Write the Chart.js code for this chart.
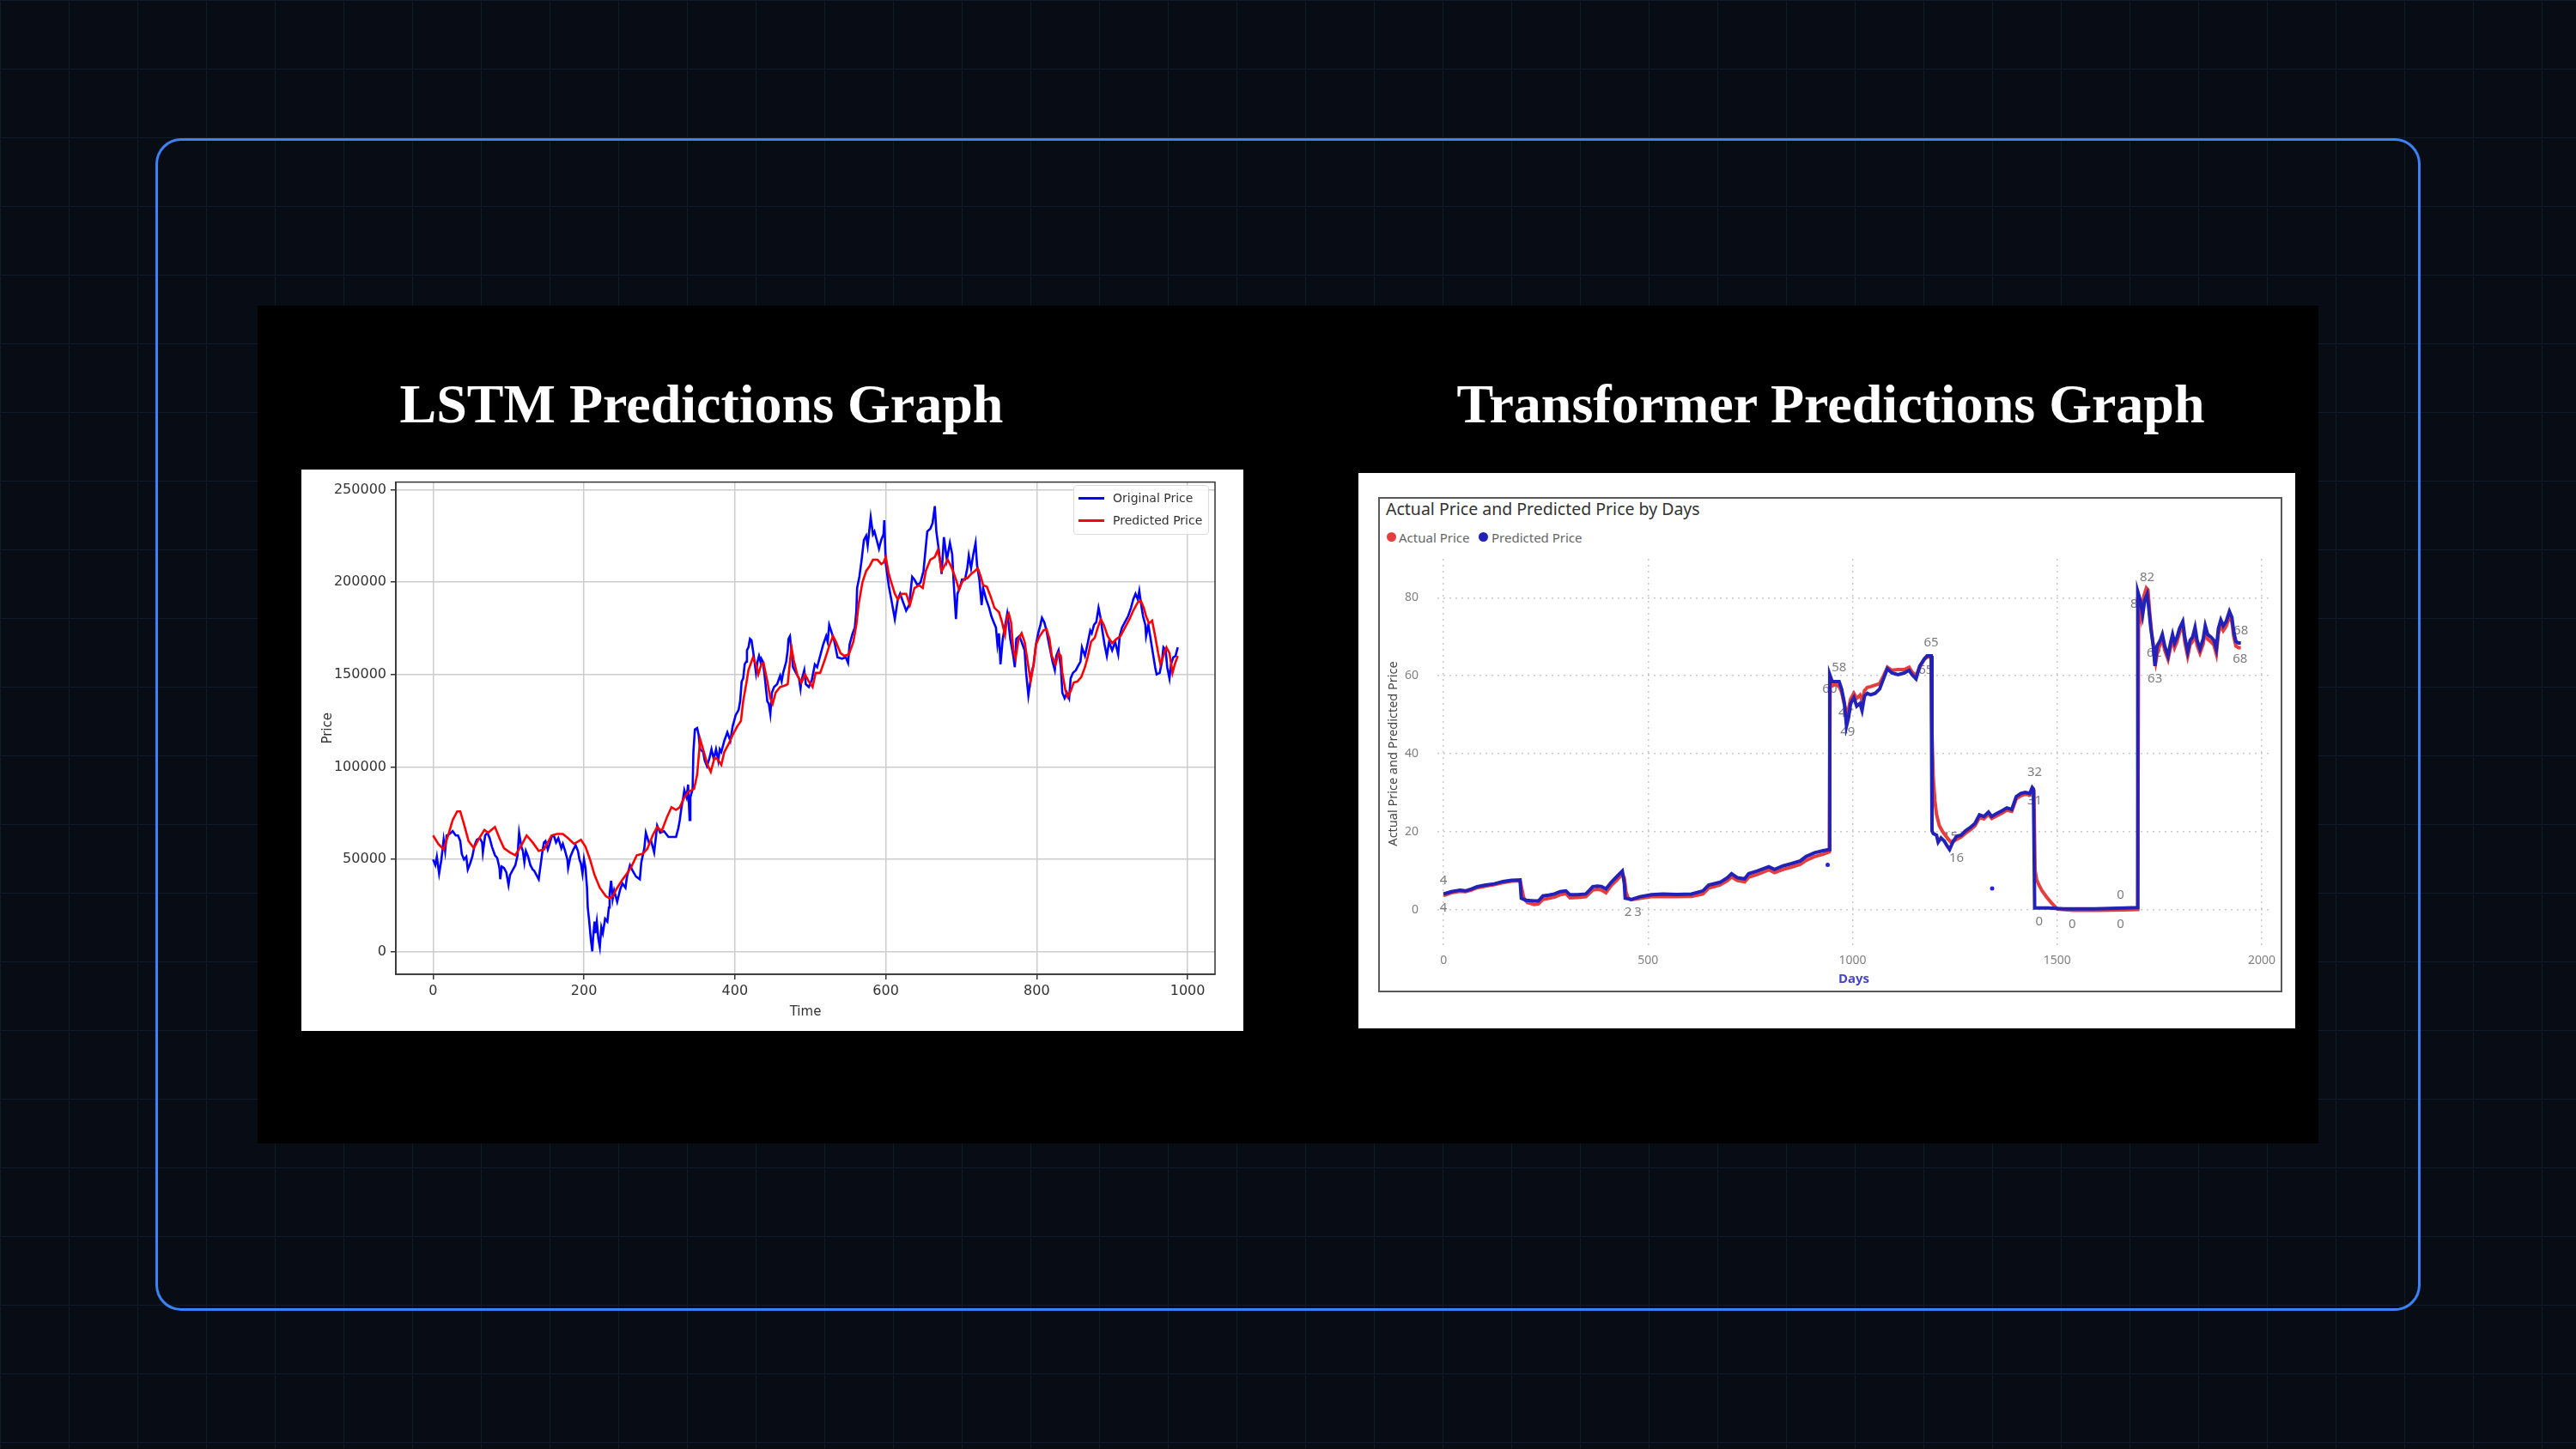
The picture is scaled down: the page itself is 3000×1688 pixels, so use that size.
<!DOCTYPE html>
<html>
<head>
<meta charset="utf-8">
<title>LSTM vs Transformer predictions</title>
<script src="https://cdn.jsdelivr.net/npm/chart.js@4.4.1/dist/chart.umd.min.js"></script>
<style>
  html, body { margin: 0; padding: 0; }
  body {
    width: 3000px; height: 1688px; overflow: hidden; position: relative;
    background-color: #080c14;
    background-image:
      linear-gradient(to right, #111a28 1px, transparent 1px),
      linear-gradient(to bottom, #111a28 1px, transparent 1px);
    background-size: 80px 80px;
  }
  .abs { position: absolute; }
  #box {
    left: 181px; top: 161px; width: 2638px; height: 1366px; box-sizing: border-box;
    border: 3px solid #3b82f6; border-radius: 30px;
  }
  #panel { left: 300px; top: 356px; width: 2400px; height: 976px; background: #000; }
  .title {
    top: 434px; line-height: 64px; font: bold 64px "Liberation Serif", "Times New Roman", serif;
    color: #fff; white-space: nowrap; transform: translateX(-50%);
  }
  .card { background: #fff; }
  #lstmLegend {
    left: 1250px; top: 565px; width: 158px; height: 58px; box-sizing: border-box;
    border: 1px solid #dcdcdc; border-radius: 4px; background: rgba(255,255,255,0.85);
    font: 14px "DejaVu Sans", sans-serif; color: #333;
  }
  #lstmLegend .row { position: absolute; left: 0; height: 20px; line-height: 20px; }
  #lstmLegend .sw { position: absolute; left: 5px; top: 9px; width: 30px; height: 3px; }
  #lstmLegend .tx { position: absolute; left: 45px; top: 0; white-space: nowrap; }
  #trFrame { left: 1605px; top: 579px; width: 1053px; height: 577px; box-sizing: border-box; border: 2px solid #5a5a5a; }
  #trTitle { left: 1614px; top: 581px; font: 19.5px "Noto Sans", sans-serif; line-height: 24px; color: #333; white-space: nowrap; }
  .dot { width: 11px; height: 11px; border-radius: 50%; top: 620px; }
  .lg { top: 616px; font: 15px "Noto Sans", sans-serif; line-height: 20px; color: #666; white-space: nowrap; }
</style>
</head>
<body>
<div id="box" class="abs"></div>
<div id="panel" class="abs"></div>
<div class="abs title" style="left:817px">LSTM Predictions Graph</div>
<div class="abs title" style="left:2132px">Transformer Predictions Graph</div>

<div class="abs card" style="left:351px;top:547px;width:1097px;height:654px"></div>
<canvas id="lstmChart" class="abs" width="1097" height="654" style="left:351px;top:547px;width:1097px;height:654px"></canvas>
<div id="lstmLegend" class="abs">
  <div class="row" style="top:4px;width:150px"><span class="sw" style="background:#0000ff"></span><span class="tx">Original Price</span></div>
  <div class="row" style="top:30px;width:150px"><span class="sw" style="background:#ff0000"></span><span class="tx">Predicted Price</span></div>
</div>

<div class="abs card" style="left:1582px;top:551px;width:1091px;height:647px"></div>
<div id="trFrame" class="abs"></div>
<div id="trTitle" class="abs">Actual Price and Predicted Price by Days</div>
<div class="abs dot" style="left:1615px;background:#e53e3e"></div>
<div class="abs lg" style="left:1629px">Actual Price</div>
<div class="abs dot" style="left:1722px;background:#2222b8"></div>
<div class="abs lg" style="left:1737px">Predicted Price</div>
<canvas id="trChart" class="abs" width="1091" height="647" style="left:1582px;top:551px;width:1091px;height:647px"></canvas>

<script>
// ---------- LSTM chart data ----------
const lstmTimeTicks = [0, 200, 400, 600, 800, 1000];
const lstmPriceTicks = [0, 50000, 100000, 150000, 200000, 250000];

const lstmOrigTime = [
  0,3,5,8,11,14,16,18,22,26, 30,33,36,38,41,44,46,49,52,55,
  58,62,65,66,69,72,75,78,82,85, 88,89,91,94,97,100,102,105,109,112,
  114,117,119,121,123,126,129,132,134,137, 140,142,145,147,149,152,155,157,160,163,
  166,170,172,175,178,179,182,186,189,192, 194,196,198,200,202,204,205,207,209,211,
  212,214,215,217,219,221,223,225,228,231, 233,234,236,238,240,244,248,251,255,257,
  261,265,269,274,276,280,282,286,289,293, 297,301,306,312,318,322,325,327,329,331,
  333,336,338,340,341,344,345,347,350,352, 354,358,360,363,366,369,372,375,378,380,
  382,386,390,394,397,401,405,407,409,411, 413,415,416,418,420,422,424,426,428,430,
  432,434,435,437,439,441,443,445,447,449, 452,456,460,462,464,468,470,471,473,475,
  477,481,485,487,488,492,494,498,502,506, 509,513,517,521,523,525,528,532,536,542,
  547,550,552,556,559,561,562,565,568,571, 574,576,580,583,585,588,591,594,597,598,
  600,604,608,612,616,619,623,627,631,635, 638,642,646,650,655,659,662,665,667,670,
  674,677,681,685,688,690,693,695,698,701, 705,708,710,713,716,719,721,724,727,729,
  733,737,740,743,746,748,750,752,755,759, 761,763,765,769,771,773,777,780,784,786,
  789,791,794,796,799,802,805,807,810,813, 815,818,821,824,826,829,832,834,837,840,
  843,845,848,852,854,858,860,864,868,871, 873,876,879,882,885,887,890,893,896,900,
  904,908,910,913,917,921,925,928,931,934, 936,938,941,944,945,948,951,954,957,959,
  963,966,968,971,973,976,978,981,984,987
];
const lstmOrigPrice = [
  50000,47000,51500,42400,50000,60700,54600,63000,63800,65300, 63000,63000,60000,53000,50000,51500,44600,47700,51500,57600,
  60700,61500,59200,53800,63000,64500,61500,56900,52300,50800, 45400,39300,46200,45400,43100,36200,41600,43900,46900,52300,
  64500,56900,54600,48500,54600,51500,46900,44600,43900,41600, 39300,45400,54600,59200,60000,55400,59200,62200,63000,59200,
  61500,56100,58400,54600,50000,45400,51500,55400,57600,54600, 50000,47700,42400,50000,45400,34700,24000,16400,7200,300,
  7200,16400,10200,16400,7200,2600,13300,10200,17900,16400, 24000,31600,38500,28600,33200,27100,33900,37000,34700,40800,
  46900,43500,40800,39300,48500,56100,64500,59200,60000,53800, 68300,64500,65300,62200,62200,62200,66800,71400,77500,82100,
  87500,83600,90500,71400,83600,88200,108100,120300,121100,117300, 109600,108100,103500,100500,104300,109600,104300,109600,103500,109600,
  108100,114200,118800,114200,121900,128000,131000,135600,146300,147900, 155500,157000,163100,164700,169300,168500,163100,157000,150900,157000,
  160100,157000,158600,157000,150900,143300,135600,134100,128700,140200, 143300,144800,149400,146300,150900,157000,163100,169300,170800,163100,
  154000,150900,147900,142500,146300,152400,144800,143300,147100,155500, 154000,160100,166200,170800,167700,176900,173100,167700,159300,158600,
  159300,156300,166200,172300,175400,184600,196800,202900,212100,222800, 225100,219700,235000,225800,227400,222800,218000,222800,225800,233500,
  210000,198000,189100,180000,190700,193700,189100,184600,187600,202900, 201400,198300,199800,206000,227400,228900,231900,241100,227400,218200,
  204400,224300,212100,221200,215100,199800,180000,193700,196800,201400, 201400,207500,214400,207500,215100,221200,209000,201400,187600,196800,
  190700,186100,181500,178400,175400,166200,172300,155500,169300,178400, 183000,176900,169300,160100,154000,169300,170800,167700,163100,150900,
  138700,144800,152400,155500,166200,172300,176900,180700,178400,173800, 169300,163100,157000,152400,160100,163100,154000,140200,137200,140200,
  137200,147900,150900,152400,154000,157000,164700,160100,167700,173800, 172300,176900,178400,186100,180000,173800,166200,160100,167700,163100,
  167700,160900,170800,175400,178400,181500,186100,190700,193700,190700, 195200,189100,181500,176900,170800,176900,169300,161600,154000,150100,
  150900,157000,164700,163100,154000,147900,155500,159300,160100,164700
];

const lstmPredTime = [
  0,7,14,20,26,32,36,41,47,54, 60,68,73,82,88,94,102,109,117,124,
  132,140,147,157,164,172,179,187,196,202, 208,214,221,229,234,238,243,250,257,263,
  270,278,284,291,297,303,310,316,322,327, 333,339,346,350,354,360,363,368,373,377,
  382,386,392,397,403,408,411,415,418,424, 428,431,435,438,443,447,450,454,460,466,
  470,473,475,478,483,488,493,498,503,507, 513,519,525,530,534,540,545,551,557,561,
  564,569,574,578,583,589,594,597,600,604, 608,612,616,621,627,632,638,644,649,653,
  659,665,669,671,674,678,682,686,689,693, 697,701,705,708,713,718,722,726,729,734,
  739,744,750,754,758,761,763,766,769,772, 776,780,784,788,792,796,799,804,809,813,
  817,820,825,829,832,834,838,841,845,849, 854,859,864,868,872,877,881,885,889,894,
  900,906,911,917,923,928,934,938,942,945, 949,953,957,961,964,968,972,976,980,983,
  987
];
const lstmPredPrice = [
  63000,58400,55400,63000,71400,76000,76000,69100,60000,56100, 60700,66000,64500,67600,61500,56100,53800,52300,57600,63000,
  59200,54600,55400,63000,63800,63800,61500,58400,60700,56900, 50000,41600,34700,30100,29000,30100,34000,38500,42400,46200,
  52300,53100,55800,63000,67600,65300,72900,78300,76800,78300, 83600,86700,88200,95900,115000,106600,102000,97400,105000,104300,
  101200,108100,112700,117300,121900,124900,135600,144800,152400,159300, 155500,150100,155500,156300,146300,137200,134100,140200,143300,144000,
  144800,157000,164700,157800,149400,145600,150100,146300,143300,150900, 150900,157800,165400,170800,167700,161600,160100,160900,167700,176900,
  188000,199800,206000,208300,212100,212100,209800,210600,213600,204400, 199000,193700,190700,193700,193700,187600,196800,198300,196800,206000,
  212100,213600,217400,213600,206000,209000,212100,209000,206000,201400, 196000,199800,202100,202100,204400,206000,207500,202900,198300,197500,
  192200,186100,183800,178400,171500,181500,183000,178400,163100,158600, 169300,172300,167700,157000,146300,155500,166200,170800,173800,174600,
  169300,160100,155500,161600,160100,150900,141700,137900,141000,145600, 146300,148600,154000,160100,167700,170000,175400,180000,176900,170800,
  167000,169300,170800,175400,180000,184600,189100,189900,186100,181500, 177700,179200,170800,161600,155500,160100,164700,161600,150900,155500,
  160100
];

// ---------- Transformer chart data ----------
const trDayTicks = [0, 500, 1000, 1500, 2000];
const trPriceTicks = [0, 20, 40, 60, 80];

const trPredDays = [
  0,19,40,54,68,82,103,124,145,166, 187,190,201,222,232,243,257,271,285,299,
  309,327,348,365,376,386,397,410,424,437, 442,444,459,480,508,536,571,606,634,648,
  676,694,704,718,736,746,767,795,809,830, 851,872,886,907,928,941,943,944,950,958,
  967,973,980,985,990,995,1003,1010,1018,1023, 1029,1036,1044,1055,1066,1074,1085,1096,1111,1126,
  1138,1145,1155,1164,1175,1182,1192,1194,1197,1205, 1209,1216,1224,1230,1237,1245,1254,1265,1276,1287,
  1299,1310,1321,1332,1340,1351,1366,1377,1389,1400, 1411,1422,1433,1439,1442,1445,1478,1516,1591,1666,
  1696,1697,1703,1709,1714,1720,1724,1729,1735,1739, 1744,1752,1757,1763,1771,1777,1782,1787,1793,1799,
  1807,1812,1819,1825,1831,1837,1842,1849,1857,1862, 1868,1876,1883,1889,1894,1900,1906,1913,1921,1927,
  1932,1937,1943,1949
];
const trPredPrice = [
  4.0,4.6,5.0,4.8,5.3,5.9,6.3,6.6,7.2,7.5, 7.6,2.9,2.4,2.2,2.2,3.5,3.7,4.0,4.6,4.8,
  3.8,3.8,4.0,5.9,6.0,5.9,5.3,7.0,8.5,9.9, 6.6,2.9,2.6,3.3,3.8,4.0,3.9,4.0,4.8,6.3,
  7.0,8.2,9.2,8.2,7.9,9.2,9.9,11.0,10.3,11.2, 11.8,12.5,13.6,14.6,15.1,15.4,15.4,60.3,58.5,58.5,
  58.5,56.6,52.9,47.1,49.3,52.9,54.4,52.2,52.9,51.1, 54.8,55.5,55.1,55.5,56.6,58.8,61.8,60.7,60.3,60.7,
  61.4,60.3,59.2,62.5,64.3,65.1,65.1,20.2,19.5,19.1, 17.3,18.4,17.6,16.5,15.4,17.3,18.8,19.1,20.2,21.0,
  22.1,24.3,23.9,25.0,23.9,24.6,25.4,26.1,25.7,29.0, 29.8,30.1,29.8,31.3,30.9,0.4,0.4,0.2,0.2,0.4,
  0.5,81.6,79.4,75.7,79.4,80.9,77.2,72.1,67.6,62.5, 67.6,69.1,70.6,67.6,65.1,68.4,70.6,68.4,69.9,72.1,
  73.9,69.9,66.2,69.1,69.9,72.4,69.1,66.9,69.5,72.8, 70.6,69.9,69.1,66.9,72.1,74.3,72.8,73.9,76.5,75.0,
  71.0,68.8,68.4,68.4
];

const trActualDays = [
  0,19,40,54,68,82,103,124,145,166, 187,190,196,205,222,232,243,257,271,285,
  299,309,327,348,365,376,386,397,410,424, 437,442,446,452,459,480,508,536,571,606,
  634,648,676,694,704,718,736,746,767,795, 809,830,851,872,886,907,928,943,945,950,
  958,967,973,980,986,990,995,1003,1010,1018, 1023,1029,1036,1044,1055,1066,1074,1085,1096,1111,
  1126,1138,1145,1155,1164,1175,1182,1192,1194,1197, 1201,1205,1212,1220,1230,1240,1248,1254,1265,1276,
  1287,1299,1310,1321,1332,1340,1351,1366,1377,1389, 1400,1411,1422,1433,1439,1443,1446,1450,1456,1463,
  1475,1486,1501,1540,1600,1660,1697,1699,1705,1712, 1718,1722,1726,1731,1737,1741,1746,1752,1757,1763,
  1771,1777,1782,1787,1793,1799,1807,1812,1819,1825, 1831,1837,1842,1849,1857,1862,1868,1876,1883,1889,
  1894,1900,1906,1913,1921,1927,1932,1937,1943,1949
];
const trActualPrice = [
  3.6,4.3,4.7,4.6,5.0,5.6,6.0,6.4,6.9,7.3, 7.4,6.0,3.0,1.8,1.3,1.5,2.6,2.9,3.2,3.8,
  4.1,3.0,3.1,3.3,5.0,5.2,5.0,4.3,6.2,7.6, 9.2,8.0,4.5,2.8,2.5,2.9,3.3,3.4,3.3,3.4,
  4.0,5.5,6.3,7.4,8.4,7.5,7.1,8.3,9.0,10.2, 9.5,10.3,10.9,11.6,12.6,13.6,14.2,14.8,58.5,57.4,
  57.8,57.2,55.8,52.5,50.2,51.5,54.0,55.5,54.2,55.0, 53.6,56.2,57.0,57.2,57.6,58.0,59.6,62.2,61.4,61.6,
  61.6,62.2,61.0,60.0,62.2,64.2,64.8,64.8,45.0,34.0, 28.0,24.5,21.5,20.0,18.6,17.3,17.6,18.0,18.6,19.6,
  20.4,21.5,23.6,23.3,24.4,23.4,24.0,24.8,25.5,25.2, 28.4,29.2,29.6,29.4,30.8,30.5,10.0,7.6,6.2,4.8,
  3.1,1.7,0.1,-0.2,-0.2,-0.1,0.0,78.5,75.0,80.5, 82.5,82.0,76.5,71.0,66.0,63.5,66.5,68.0,69.5,66.5,
  64.2,67.2,69.5,67.2,68.8,71.0,72.8,68.6,65.0,68.0, 68.8,71.2,67.8,65.8,68.2,71.5,69.4,68.7,67.9,65.6,
  70.8,73.0,71.6,72.7,75.2,73.8,69.8,67.6,67.2,67.2
];

// stray single points of the predicted series
const trStrayDays = [939, 1341, 1280];
const trStrayPrice = [11.5, 5.4, 101.4];

// data labels: text and where it sits (day, price)
const trLabelText = ['4','4','2','3','58','60','47','49','65','65','15','16','32','31','0','0','0','0','82','82','63','62','68','68'];
const trLabelDays = [0,0,451,475,967,944,983,988,1192,1179,1239,1254,1445,1445,1456,1537,1655,1655,1720,1697,1739,1737,1949,1947];
const trLabelAt   = [7.4,0.4,-0.8,-0.8,62.0,56.6,50.4,45.6,68.4,61.4,18.8,13.2,35.3,27.9,-3.2,-3.7,-3.7,3.8,85.3,78.3,59.3,65.8,71.5,64.3];

Chart.defaults.font.family = '"DejaVu Sans", sans-serif';

const toPoints = (xs, ys) => xs.map((x, i) => ({ x: x, y: ys[i] }));

// matplotlib-like frame around the plot area
const spines = {
  id: 'spines',
  afterDatasetsDraw(chart) {
    const a = chart.chartArea;
    const ctx = chart.ctx;
    ctx.save();
    ctx.strokeStyle = '#333';
    ctx.lineWidth = 1.5;
    ctx.strokeRect(a.left, a.top, a.right - a.left, a.bottom - a.top);
    ctx.restore();
  }
};

new Chart(document.getElementById('lstmChart'), {
  type: 'line',
  data: {
    datasets: [
      { label: 'Original Price', data: toPoints(lstmOrigTime, lstmOrigPrice), borderColor: '#0000ff',
        borderWidth: 2.6, pointRadius: 0, order: 2 },
      { label: 'Predicted Price', data: toPoints(lstmPredTime, lstmPredPrice), borderColor: '#ff0000',
        borderWidth: 2.6, pointRadius: 0, order: 1 }
    ]
  },
  options: {
    responsive: false,
    animation: false,
    layout: { padding: { top: 9, right: 33, left: 0, bottom: 0 } },
    plugins: { legend: { display: false }, tooltip: { enabled: false } },
    scales: {
      x: {
        type: 'linear', min: -49.35, max: 1036.35,
        afterBuildTicks: s => { s.ticks = lstmTimeTicks.map(v => ({ value: v })); },
        afterFit: s => { s.height = 66; },
        grid: { color: '#cccccc', lineWidth: 1.5, tickColor: '#333', tickLength: 6 },
        border: { color: '#333', width: 1.5 },
        ticks: { color: '#333', font: { size: 16 }, padding: 4, maxRotation: 0, callback: v => String(v) },
        title: { display: true, text: 'Time', color: '#333', font: { size: 15 }, padding: { top: 0, bottom: 13 } }
      },
      y: {
        type: 'linear', min: -12100, max: 254100,
        afterBuildTicks: s => { s.ticks = lstmPriceTicks.map(v => ({ value: v })); },
        afterFit: s => { s.width = 110; },
        grid: { color: '#cccccc', lineWidth: 1.5, tickColor: '#333', tickLength: 6 },
        border: { color: '#333', width: 1.5 },
        ticks: { color: '#333', font: { size: 16 }, padding: 5, callback: v => String(v) },
        title: { display: true, text: 'Price', color: '#333', font: { size: 15 }, padding: { top: 22, bottom: 0 } }
      }
    }
  },
  plugins: [spines]
});

// gray value labels, drawn under the lines
const trLabels = {
  id: 'trLabels',
  beforeDatasetsDraw(chart) {
    const { ctx, scales } = chart;
    ctx.save();
    ctx.font = '15px "Noto Sans", sans-serif';
    ctx.fillStyle = '#7c7c7c';
    ctx.textAlign = 'center';
    ctx.textBaseline = 'middle';
    trLabelText.forEach((t, i) => {
      ctx.fillText(t, scales.x.getPixelForValue(trLabelDays[i]), scales.y.getPixelForValue(trLabelAt[i]));
    });
    ctx.restore();
  }
};

new Chart(document.getElementById('trChart'), {
  type: 'line',
  data: {
    datasets: [
      { label: 'Predicted Price', data: toPoints(trPredDays, trPredPrice), borderColor: '#2222b8',
        borderWidth: 4, pointRadius: 0, order: 1 },
      { label: 'Actual Price', data: toPoints(trActualDays, trActualPrice), borderColor: '#e53e3e',
        borderWidth: 4, pointRadius: 0, order: 2 },
      { label: 'stray', data: toPoints(trStrayDays, trStrayPrice), showLine: false, pointRadius: 2.5,
        pointBackgroundColor: '#2424e0', pointBorderWidth: 0, clip: false, order: 0 }
    ]
  },
  options: {
    responsive: false,
    animation: false,
    layout: { padding: { top: 100, right: 29, left: 0, bottom: 0 } },
    plugins: { legend: { display: false }, tooltip: { enabled: false } },
    scales: {
      x: {
        type: 'linear', min: -15, max: 2021,
        afterBuildTicks: s => { s.ticks = trDayTicks.map(v => ({ value: v })); },
        afterFit: s => { s.height = 93; },
        grid: { color: '#c9c9c9', lineWidth: 1.5, drawTicks: false },
        border: { display: false, dash: [2, 5] },
        ticks: { color: '#808080', font: { family: '"Noto Sans", sans-serif', size: 14 }, padding: 6,
          maxRotation: 0, callback: v => String(v) },
        title: { display: true, text: 'Days', color: '#4646c4',
          font: { family: '"Noto Sans", sans-serif', size: 15, weight: 'bold' }, padding: { top: 0, bottom: 48 } }
      },
      y: {
        type: 'linear', min: -10, max: 90,
        afterBuildTicks: s => { s.ticks = trPriceTicks.map(v => ({ value: v })); },
        afterFit: s => { s.width = 92; },
        grid: { color: '#c9c9c9', lineWidth: 1.5, drawTicks: false },
        border: { display: false, dash: [2, 5] },
        ticks: { color: '#808080', font: { family: '"Noto Sans", sans-serif', size: 14 }, padding: 22,
          callback: v => String(v) },
        title: { display: true, text: 'Actual Price and Predicted Price', color: '#444',
          font: { family: '"Noto Sans", sans-serif', size: 14.5 }, padding: { top: 32, bottom: 0 } }
      }
    }
  },
  plugins: [trLabels]
});
</script>
</body>
</html>
